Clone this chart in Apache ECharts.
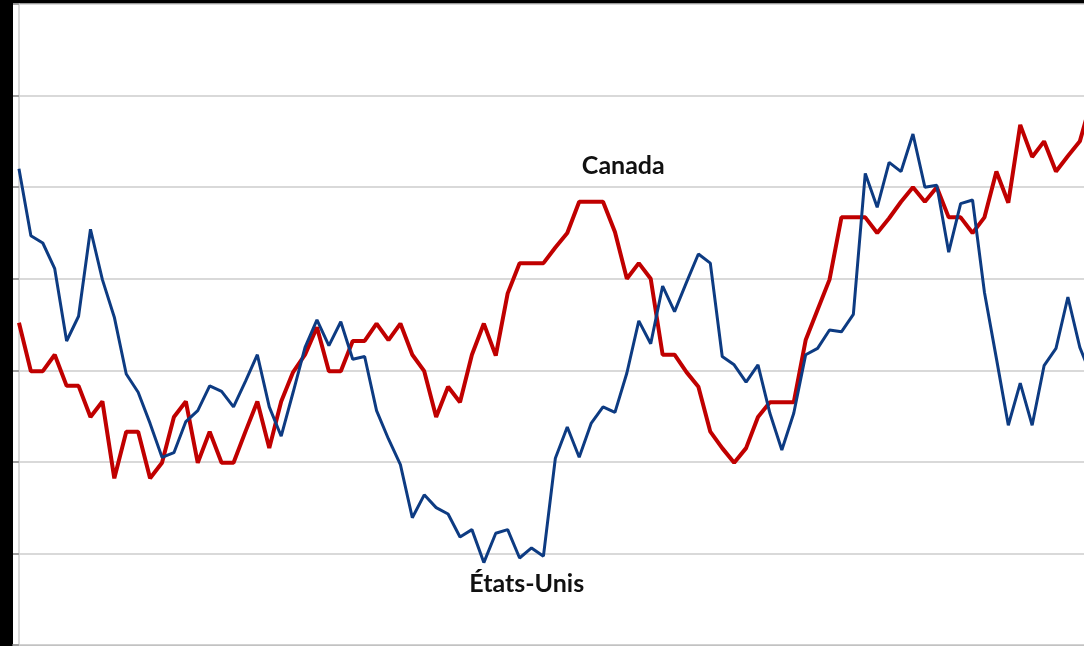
<!DOCTYPE html>
<html>
<head>
<meta charset="utf-8">
<script src="https://cdn.jsdelivr.net/npm/echarts@6/dist/echarts.min.js"></script>
<style>
  html, body { margin: 0; padding: 0; background: #000; }
  #chart { width: 1084px; height: 646px; }
</style>
</head>
<body>
<div id="chart"></div>
<script>
// Period index (one point per period)
const periods = Array.from({length: 91}, (_, i) => i);

// Canada (red), in gridline units
const canada = [3.52,2.99,2.99,3.17,2.83,2.83,2.49,2.66,1.82,2.33,
  2.33,1.82,1.99,2.49,2.66,1.99,2.33,1.99,1.99,2.33,
  2.66,2.15,2.66,2.98,3.17,3.47,2.99,2.99,3.32,3.32,
  3.51,3.33,3.51,3.17,2.99,2.49,2.82,2.65,3.17,3.51,
  3.16,3.84,4.17,4.17,4.17,4.34,4.50,4.84,4.84,4.84,
  4.51,4.00,4.17,4.00,3.17,3.17,2.98,2.82,2.33,2.15,
  1.99,2.15,2.49,2.65,2.65,2.65,3.33,3.66,3.99,4.67,
  4.67,4.67,4.50,4.66,4.84,5.00,4.84,5.00,4.67,4.67,
  4.50,4.67,5.17,4.83,5.68,5.33,5.50,5.17,5.34,5.50,5.96];

// États-Unis (blue), in gridline units
const etatsUnis = [5.20,4.47,4.39,4.11,3.32,3.59,4.54,3.99,3.58,2.96,
  2.76,2.42,2.05,2.10,2.44,2.56,2.83,2.77,2.60,2.88,
  3.17,2.60,2.28,2.76,3.25,3.55,3.27,3.53,3.12,3.15,
  2.56,2.25,1.97,1.39,1.64,1.50,1.43,1.18,1.26,0.90,
  1.22,1.26,0.95,1.06,0.97,2.04,2.38,2.05,2.42,2.60,
  2.54,2.97,3.54,3.29,3.92,3.64,3.96,4.27,4.17,3.15,
  3.06,2.87,3.06,2.53,2.13,2.53,3.17,3.24,3.44,3.42,
  3.61,5.15,4.78,5.27,5.17,5.58,5.00,5.02,4.29,4.82,
  4.86,3.85,3.13,2.40,2.86,2.40,3.05,3.24,3.80,3.25,2.93];

const seriesNames = ['Canada', 'États-Unis'];
const yTicks = [0, 1, 2, 3, 4, 5, 6, 7];

const pairs = arr => arr.map((v, i) => [periods[i], v]);

const labelStyle = {
  show: true,
  fontFamily: 'Lato',
  fontWeight: 'bold',
  fontSize: 25,
  color: '#111',
  position: 'inside'
};

const chart = echarts.init(document.getElementById('chart'), null, {renderer: 'canvas'});
chart.setOption({
  animation: false,
  backgroundColor: '#000',
  grid: {
    left: 13, right: 0, top: 4, bottom: 1,
    show: true, backgroundColor: '#fff', borderWidth: 0
  },
  xAxis: {
    type: 'value',
    min: -0.5,
    max: 89.35,
    axisLine: { show: true, lineStyle: { color: '#cfcfcf', width: 1.5 } },
    axisTick: { show: false },
    axisLabel: { show: false },
    splitLine: { show: false }
  },
  yAxis: {
    type: 'value',
    min: yTicks[0],
    max: yTicks[yTicks.length - 1],
    interval: 1,
    axisLine: { show: true, lineStyle: { color: '#cfcfcf', width: 1.5 } },
    axisTick: { show: true, length: 6, lineStyle: { color: '#8a8a8a', width: 1.5 } },
    axisLabel: { show: false },
    splitLine: { show: true, lineStyle: { color: '#cccccc', width: 1.5 } }
  },
  series: [
    {
      name: seriesNames[0],
      type: 'line',
      data: pairs(canada),
      symbol: 'none',
      lineStyle: { color: '#C00000', width: 4 },
      itemStyle: { color: '#C00000' },
      clip: true,
      z: 2,
      markPoint: {
        symbol: 'circle', symbolSize: 1,
        itemStyle: { color: 'rgba(0,0,0,0)' },
        label: Object.assign({}, labelStyle, { formatter: seriesNames[0] }),
        data: [{ coord: [50.7, 5.23] }]
      }
    },
    {
      name: seriesNames[1],
      type: 'line',
      data: pairs(etatsUnis),
      symbol: 'none',
      lineStyle: { color: '#0D3B82', width: 3 },
      itemStyle: { color: '#0D3B82' },
      clip: true,
      z: 3,
      markPoint: {
        symbol: 'circle', symbolSize: 1,
        itemStyle: { color: 'rgba(0,0,0,0)' },
        label: Object.assign({}, labelStyle, { formatter: seriesNames[1] }),
        data: [{ coord: [42.6, 0.67] }]
      }
    }
  ]
});
</script>
</body>
</html>
